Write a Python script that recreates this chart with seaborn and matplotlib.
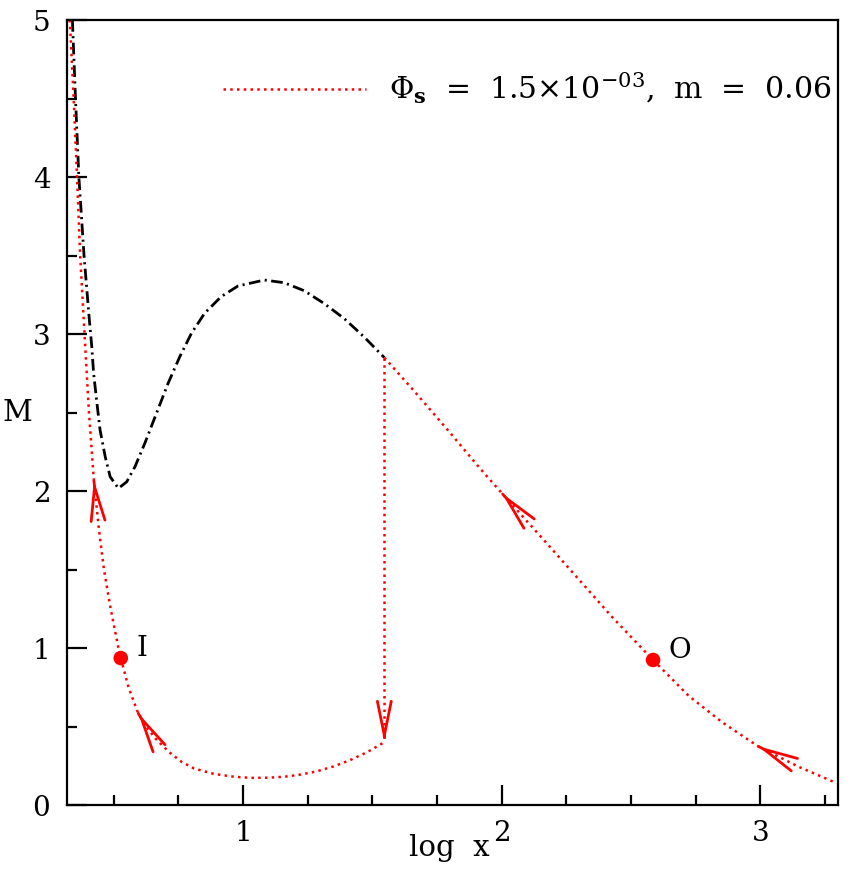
import numpy as np
import pandas as pd
import matplotlib
matplotlib.use("Agg")
import matplotlib.pyplot as plt
import seaborn as sns
from matplotlib.ticker import MultipleLocator

# ---------------- data ----------------
# black dash-dot curve
black_x = [0.340, 0.352, 0.365, 0.385, 0.405, 0.415, 0.422, 0.435, 0.447, 0.467,
           0.486, 0.518, 0.550, 0.582, 0.620, 0.665, 0.710, 0.755, 0.800, 0.851,
           0.915, 0.980, 1.082, 1.159, 1.236, 1.313, 1.390, 1.467, 1.546]
black_y = [5.00, 4.50, 4.00, 3.50, 3.10, 2.919, 2.75, 2.558, 2.389, 2.218,
           2.091, 2.017, 2.059, 2.155, 2.304, 2.495, 2.686, 2.855, 3.004, 3.132,
           3.238, 3.306, 3.344, 3.327, 3.276, 3.195, 3.10, 2.983, 2.85]

# red dotted: inner branch (top-left down to the shock foot)
inner_x = [0.330, 0.345, 0.358, 0.370, 0.387, 0.404, 0.423, 0.443, 0.462, 0.488,
           0.518, 0.527, 0.557, 0.594, 0.625, 0.663, 0.712, 0.762, 0.810, 0.888,
           0.966, 1.030, 1.095, 1.158, 1.223, 1.288, 1.350, 1.415, 1.480, 1.546]
inner_y = [5.00, 4.50, 4.00, 3.50, 3.00, 2.50, 2.07, 1.75, 1.50, 1.25,
           1.00, 0.936, 0.75, 0.586, 0.50, 0.42, 0.340, 0.275, 0.233, 0.198,
           0.180, 0.173, 0.174, 0.180, 0.194, 0.216, 0.246, 0.287, 0.337, 0.40]

# red dotted: shock jump
shock_x = [1.546, 1.546]
shock_y = [2.85, 0.40]

# red dotted: outer branch
outer_x = [1.546, 1.658, 1.788, 1.915, 2.000, 2.173, 2.300, 2.427, 2.585, 2.723,
           2.850, 2.990, 3.146, 3.280]
outer_y = [2.85, 2.643, 2.395, 2.146, 1.987, 1.669, 1.433, 1.197, 0.924, 0.695,
           0.53, 0.375, 0.245, 0.150]

# critical points
pt_names = ["I", "O"]
pt_x = [0.527, 2.585]
pt_y = [0.936, 0.924]

# arrows: (curve, tip index, index of the point behind the tip)
arrow_specs = [("inner", 6, 7), ("inner", 13, 14), ("shock", 1, 0),
               ("outer", 4, 5), ("outer", 11, 12)]

legend_label = r"$\Phi_{\mathbf{s}}$  =  1.5$\times$10$^{-03}$,  m  =  0.06"
# in the reference the exponent "2" of x is shared with the tick label "2"
x_label = "log  x"
y_label = "M"

# ---------------- plotting ----------------
sns.set_style("ticks")
plt.rcParams["font.family"] = ["DejaVu Serif"]
plt.rcParams["mathtext.fontset"] = "dejavuserif"
plt.rcParams["text.color"] = "black"
plt.rcParams["axes.labelcolor"] = "black"
plt.rcParams["xtick.color"] = "black"
plt.rcParams["ytick.color"] = "black"

fig = plt.figure(figsize=(8.64, 8.72), dpi=100)
ax = fig.add_axes([0.0775, 0.0768, 0.8924, 0.9002])

red = "#ff0000"
dot_ls = (0, (1, 1.7))
dd_ls = (0, (4.2, 1.6, 0.75, 1.6))

sns.lineplot(x=black_x, y=black_y, sort=False, estimator=None, ax=ax,
             color="black", linewidth=2.0, linestyle=dd_ls)
sns.lineplot(x=inner_x, y=inner_y, sort=False, estimator=None, ax=ax,
             color=red, linewidth=1.8, linestyle=dot_ls)
sns.lineplot(x=shock_x, y=shock_y, sort=False, estimator=None, ax=ax,
             color=red, linewidth=1.8, linestyle=dot_ls)
sns.lineplot(x=outer_x, y=outer_y, sort=False, estimator=None, ax=ax,
             color=red, linewidth=1.8, linestyle=dot_ls, label=legend_label)

sns.scatterplot(x=pt_x, y=pt_y, ax=ax, color=red, s=110, edgecolor="none", zorder=5)
for n, px, py in zip(pt_names, pt_x, pt_y):
    ax.annotate(n, (px, py), xytext=(11, 7), textcoords="offset points",
                ha="left", va="center", fontsize=20, color="black")

curves = {"inner": (inner_x, inner_y), "shock": (shock_x, shock_y),
          "outer": (outer_x, outer_y)}
for name, i_tip, i_back in arrow_specs:
    cx, cy = curves[name]
    tx, ty = cx[i_tip], cy[i_tip]
    bx, by = cx[i_back], cy[i_back]
    sx = tx - (tx - bx) * 0.02
    sy = ty - (ty - by) * 0.02
    ax.annotate("", xy=(tx, ty), xytext=(sx, sy),
                arrowprops=dict(arrowstyle="->,head_length=2.45,head_width=0.5",
                                color=red, lw=2.0, shrinkA=0, shrinkB=0))

ax.set_xlim(0.319, 3.30)
ax.set_ylim(0, 5)
ax.xaxis.set_major_locator(MultipleLocator(1))
ax.xaxis.set_minor_locator(MultipleLocator(0.25))
ax.yaxis.set_major_locator(MultipleLocator(1))
ax.yaxis.set_minor_locator(MultipleLocator(0.5))
ax.tick_params(which="both", direction="in", width=1.6, colors="black",
               top=False, right=False, labelsize=20)
ax.tick_params(which="major", length=14.5, pad=11)
ax.tick_params(which="minor", length=7.5)
ax.tick_params(axis="y", which="major", pad=12)
for s in ax.spines.values():
    s.set_linewidth(1.6)
    s.set_color("black")
    s.set_visible(True)

ax.set_xlabel(x_label, fontsize=21)
ax.xaxis.set_label_coords(0.444, -0.065)
ax.xaxis.label.set_va("baseline")
ax.xaxis.label.set_ha("left")
ax.set_ylabel(y_label, fontsize=21, rotation=0)
ax.yaxis.set_label_coords(-0.064, 0.50)
ax.yaxis.label.set_va("center")
ax.yaxis.label.set_ha("center")

leg = ax.legend(loc="center right", frameon=False, fontsize=21.5,
                handlelength=4.8, handletextpad=0.77,
                bbox_to_anchor=(1.0, 0.913), borderaxespad=0.0, borderpad=0.2)
for t in leg.get_texts():
    t.set_color("black")

fig.savefig("out.png", dpi=100)
